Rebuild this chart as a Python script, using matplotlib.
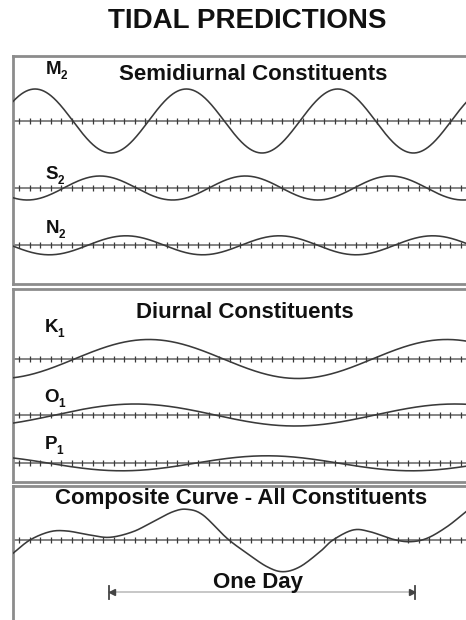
import numpy as np
import matplotlib
matplotlib.use("Agg")
import matplotlib.pyplot as plt

plt.rcParams['font.family'] = ['Liberation Sans', 'DejaVu Sans']

# ---------------- data ----------------
# time axis in hours; amplitude in arbitrary display units
semi_names = ["M", "S", "N"]
semi_subs = ["2", "2", "2"]
semi_amp = [32.0, 12.0, 9.5]
semi_period = [11.88, 11.40, 12.04]
semi_peak = [1.73, 6.83, 8.87]

diur_names = ["K", "O", "P"]
diur_subs = ["1", "1", "1"]
diur_amp = [19.5, 11.0, 7.5]
diur_period = [23.39, 25.12, 22.76]
diur_peak = [10.67, 9.58, 19.94]

comp_hours = [0.00, 1.33, 2.90, 4.24, 6.04, 7.61, 9.42, 10.99, 12.56, 13.66,
              14.91, 16.80, 18.37, 19.94, 21.19, 22.53, 24.10, 25.12, 26.69,
              28.02, 29.83, 31.16, 32.50, 34.07, 35.56]
comp_level = [-13.3, 0.0, 8.3, 9.0, 5.0, 2.7, 8.3, 18.3, 28.3, 30.7,
              25.0, 1.7, -13.3, -26.7, -31.7, -26.7, -11.7, 0.0, 10.0,
              8.3, 0.7, -1.7, 1.7, 13.3, 28.3]

one_day_start = 7.56
one_day_hours = 24.0

# ---------------- layout ----------------
W, H = 466, 620
X_MAX = 35.56
TICK_START, TICK_STEP = 0.5, 0.825
LEFT_PX = 13
CURVE_C = '#3a3a3a'
BORDER_C = '#8c8c8c'
LW = 1.15

fig = plt.figure(figsize=(W / 100, H / 100), dpi=100)


def fx(px):
    return px / W


def fy(py):
    return 1 - py / H


def panel(top, bottom, show_bottom=True):
    ax = fig.add_axes([fx(LEFT_PX), fy(bottom), 1 - fx(LEFT_PX), (bottom - top) / H])
    ax.set_xlim(0, X_MAX)
    ax.set_ylim(bottom - top, 0)
    ax.set_xticks([])
    ax.set_yticks([])
    ax.spines['right'].set_visible(False)
    ax.spines['bottom'].set_visible(show_bottom)
    for s in ax.spines.values():
        s.set_color(BORDER_C)
        s.set_linewidth(2.0)
    ax.patch.set_alpha(0)
    return ax


def baseline(ax, y):
    ax.plot([0, X_MAX], [y, y], color='#707070', lw=1.2, zorder=2)
    ticks = np.arange(TICK_START, X_MAX, TICK_STEP)
    ax.plot(ticks, np.full_like(ticks, y), ls='none', marker='|', ms=4.5,
            mew=0.9, color='#3a3a3a', zorder=2)


t = np.linspace(0, X_MAX, 800)


def wave(ax, y0, amp, period, peak):
    ax.plot(t, y0 - amp * np.cos(2 * np.pi * (t - peak) / period),
            color=CURVE_C, lw=LW, zorder=3)


def label(x_px, base_px, letter, sub):
    txt = fig.text(fx(x_px), fy(base_px), letter, ha='left', va='baseline',
                   fontsize=13.5, fontweight='bold', color='#111')
    plt.annotate(sub, xy=(1, 0), xycoords=txt, xytext=(-0.3, -3.0),
                 textcoords='offset points', ha='left', va='bottom',
                 fontsize=8.5, fontweight='bold', color='#111',
                 annotation_clip=False)


def catmull(xs, ys, n=20):
    p = np.column_stack([xs, ys])
    p = np.vstack([2 * p[0] - p[1], p, 2 * p[-1] - p[-2]])
    out = []
    u = np.linspace(0, 1, n, endpoint=False)[:, None]
    for i in range(1, len(p) - 2):
        p0, p1, p2, p3 = p[i - 1], p[i], p[i + 1], p[i + 2]
        seg = 0.5 * ((2 * p1) + (-p0 + p2) * u + (2 * p0 - 5 * p1 + 4 * p2 - p3) * u ** 2
                     + (-p0 + 3 * p1 - 3 * p2 + p3) * u ** 3)
        out.append(seg)
    out.append(p[-2][None, :])
    out = np.vstack(out)
    return out[:, 0], out[:, 1]


# ---- title
fig.text(fx(247), fy(28.3), "TIDAL PREDICTIONS", ha='center', va='baseline',
         fontsize=20, fontweight='bold', color='#111')

# ---- panel 1: semidiurnal
top1, bot1 = 56, 284
ax1 = panel(top1, bot1)
semi_base_px = [121, 188, 245.3]
semi_label_px = [74.3, 179, 233]
for name, sub, a, T, pk, bpx, lpx in zip(semi_names, semi_subs, semi_amp, semi_period,
                                          semi_peak, semi_base_px, semi_label_px):
    baseline(ax1, bpx - top1)
    wave(ax1, bpx - top1, a, T, pk)
    label(45.5, lpx, name, sub)
fig.text(fx(253), fy(80), "Semidiurnal Constituents", ha='center', va='baseline',
         fontsize=16, fontweight='bold', color='#111')

# ---- panel 2: diurnal
top2, bot2 = 289, 482
ax2 = panel(top2, bot2)
diur_base_px = [359, 415, 463.3]
diur_label_px = [331.7, 401.7, 449.3]
for name, sub, a, T, pk, bpx, lpx in zip(diur_names, diur_subs, diur_amp, diur_period,
                                          diur_peak, diur_base_px, diur_label_px):
    baseline(ax2, bpx - top2)
    wave(ax2, bpx - top2, a, T, pk)
    label(44.5, lpx, name, sub)
fig.text(fx(245), fy(318.3), "Diurnal Constituents", ha='center', va='baseline',
         fontsize=16, fontweight='bold', color='#111')

# ---- panel 3: composite
top3, bot3 = 485.5, 660
ax3 = panel(top3, bot3, show_bottom=False)
comp_base = 540 - top3
baseline(ax3, comp_base)
cx, cy = catmull(np.array(comp_hours), np.array(comp_level))
ax3.plot(cx, comp_base - cy, color=CURVE_C, lw=LW, zorder=3)
fig.text(fx(241), fy(504.3), "Composite Curve - All Constituents", ha='center',
         va='baseline', fontsize=16, fontweight='bold', color='#111')

# one-day bracket
yb = 592 - top3
x0, x1 = one_day_start, one_day_start + one_day_hours
ax3.plot([x0, x1], [yb, yb], color='#b8b8b8', lw=1.1, zorder=2)
ax3.plot([x0, x0], [yb - 6, yb + 7], color='#444', lw=1.3)
ax3.plot([x1, x1], [yb - 6, yb + 7], color='#444', lw=1.3)
ax3.plot([x0 + 0.25], [yb], marker='<', ms=4, color='#444', ls='none')
ax3.plot([x1 - 0.25], [yb], marker='>', ms=4, color='#444', ls='none')
fig.text(fx(258), fy(587.7), "One Day", ha='center', va='baseline',
         fontsize=16, fontweight='bold', color='#111')

fig.savefig("out.png", dpi=100)
